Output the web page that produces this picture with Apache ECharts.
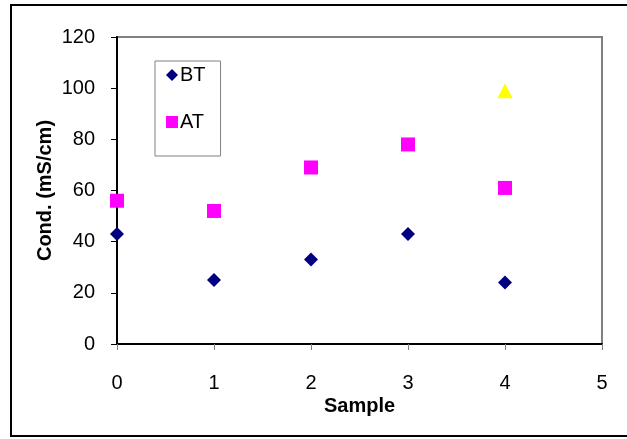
<!DOCTYPE html>
<html>
<head>
<meta charset="utf-8">
<script src="https://cdn.jsdelivr.net/npm/echarts@6/dist/echarts.min.js"></script>
<style>
  html, body { margin: 0; padding: 0; background: #fff; }
  #chart { width: 627px; height: 439px; }
</style>
</head>
<body>
<div id="chart"></div>
<script>
// Conductivity per sample, before (BT) and after (AT) treatment
const samples = [0, 1, 2, 3, 4];
const btValues = [43, 25, 33, 43, 24];
const atValues = [56, 52, 69, 78, 61];
const extraSample = [4];
const extraValues = [99];
const yTicks = { min: 0, max: 120, step: 20 };
const xTicks = { min: 0, max: 5, step: 1 };

const pair = (xs, ys) => xs.map((x, i) => [x, ys[i]]);

const font = 'Liberation Sans, Arial, sans-serif';
const chart = echarts.init(document.getElementById('chart'), null, { renderer: 'canvas' });

chart.setOption({
  animation: false,
  backgroundColor: '#ffffff',
  graphic: [{
    type: 'rect',
    shape: { x: 11, y: 5, width: 640, height: 431 },
    style: { fill: 'none', stroke: '#000', lineWidth: 2 },
    z: 100
  }],
  grid: {
    left: 117, top: 37, right: 25, bottom: 95,
    show: true, borderColor: '#808080', borderWidth: 2, backgroundColor: '#fff'
  },
  legend: {
    data: ['BT', 'AT'],
    orient: 'vertical',
    left: 155, top: 61,
    padding: [4, 15, 24, 11],
    itemGap: 27,
    itemWidth: 12, itemHeight: 12,
    borderColor: '#808080', borderWidth: 1,
    textStyle: { fontFamily: font, fontSize: 20, color: '#000', padding: [0, 0, 0, -3] }
  },
  xAxis: {
    type: 'value', min: xTicks.min, max: xTicks.max, interval: xTicks.step,
    name: 'Sample', nameLocation: 'middle', nameGap: 52, nameMoveOverlap: false,
    nameTextStyle: { fontFamily: font, fontSize: 20, fontWeight: 'bold', color: '#000' },
    axisLine: { show: true, lineStyle: { color: '#000', width: 2 } },
    axisTick: { show: true, inside: false, length: 6, lineStyle: { color: '#808080', width: 1 } },
    axisLabel: { margin: 29, fontFamily: font, fontSize: 20, color: '#000' },
    splitLine: { show: false }
  },
  yAxis: {
    type: 'value', min: yTicks.min, max: yTicks.max, interval: yTicks.step,
    name: 'Cond. (mS/cm)', nameLocation: 'middle', nameGap: 62, nameMoveOverlap: false,
    nameTextStyle: { fontFamily: font, fontSize: 20, fontWeight: 'bold', color: '#000' },
    axisLine: { show: true, lineStyle: { color: '#000', width: 2 } },
    axisTick: { show: true, inside: false, length: 6, lineStyle: { color: '#000', width: 1 } },
    axisLabel: { margin: 22, fontFamily: font, fontSize: 20, color: '#000' },
    splitLine: { show: false }
  },
  series: [
    {
      name: 'BT', type: 'scatter', symbol: 'diamond', symbolSize: 14,
      itemStyle: { color: '#000080', opacity: 1 },
      data: pair(samples, btValues)
    },
    {
      name: 'AT', type: 'scatter', symbol: 'rect', symbolSize: 14,
      itemStyle: { color: '#ff00ff', opacity: 1 },
      data: pair(samples, atValues)
    },
    {
      name: 'AT2', type: 'scatter', symbol: 'triangle', symbolSize: 15,
      itemStyle: { color: '#ffff00', opacity: 1 },
      data: pair(extraSample, extraValues)
    }
  ]
});
</script>
</body>
</html>
